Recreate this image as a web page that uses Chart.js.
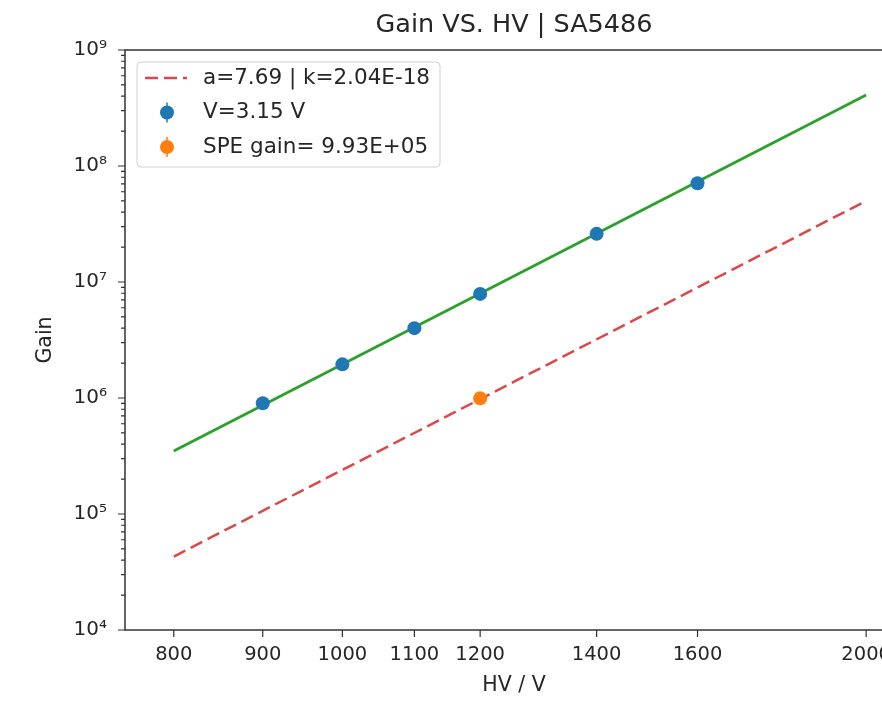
<!DOCTYPE html>
<html>
<head>
<meta charset="UTF-8" />
<title>Gain VS. HV</title>
<script src="https://cdn.jsdelivr.net/npm/chart.js@4.4.0/dist/chart.umd.min.js"></script>
<style>
	body { margin: 0; background: #fff; }
	.wrap { width: 882px; height: 704px; overflow: hidden; }
</style>
</head>
<body>
<div class="wrap"><canvas id="gainChart" width="920" height="704"></canvas></div>
<script>
// fit lines, end points
var fitHv = [800, 2000];
var speFit = [4.3e4, 5.0e7];
var gainFit = [3.5e5, 4.1e8];

// measured gain points
var hv = [900, 1000, 1100, 1200, 1400, 1600];
var gain = [9.0e5, 1.95e6, 4.0e6, 7.9e6, 2.6e7, 7.1e7];
var speHv = [1200];
var speGain = [9.93e5];

var xTicks = [800, 900, 1000, 1100, 1200, 1400, 1600, 2000];
var yTicks = [1e4, 1e5, 1e6, 1e7, 1e8, 1e9];
var yTickLabels = ['10⁴', '10⁵', '10⁶', '10⁷', '10⁸', '10⁹'];

var labelFit = 'a=7.69 | k=2.04E-18';
var labelGain = 'V=3.15 V';
var labelSpe = 'SPE gain= 9.93E+05';

var textColor = '#262626';
var fontName = '"DejaVu Sans", sans-serif';

function pairs(xs, ys) {
	return xs.map(function (x, i) { return { x: x, y: ys[i] }; });
}

// frame, tick marks and matplotlib-like legend
var framePlugin = {
	id: 'frame',
	afterDraw: function (chart) {
		var ctx = chart.ctx, ca = chart.chartArea;
		var xs = chart.scales.x, ys = chart.scales.y;
		ctx.save();
		ctx.strokeStyle = '#333';
		ctx.lineWidth = 1.5;
		ctx.strokeRect(ca.left, ca.top, ca.right - ca.left, ca.bottom - ca.top);

		ctx.lineWidth = 1.2;
		ctx.beginPath();
		xs.ticks.forEach(function (t) {
			var x = xs.getPixelForValue(t.value);
			ctx.moveTo(x, ca.bottom);
			ctx.lineTo(x, ca.bottom + 7);
		});
		ys.ticks.forEach(function (t) {
			var y = ys.getPixelForValue(t.value);
			var len = yTicks.indexOf(t.value) >= 0 ? 7 : 4;
			ctx.moveTo(ca.left, y);
			ctx.lineTo(ca.left - len, y);
		});
		ctx.stroke();

		// legend
		var items = chart.data.datasets.filter(function (d) { return d.label; });
		ctx.font = '21.5px ' + fontName;
		var w = 0;
		items.forEach(function (d) { w = Math.max(w, ctx.measureText(d.label).width); });
		var bx = ca.left + 12, by = ca.top + 12, bw = 66 + w + 10, bh = 105;
		ctx.beginPath();
		ctx.roundRect(bx, by, bw, bh, 4);
		ctx.fillStyle = 'rgba(255,255,255,0.8)';
		ctx.fill();
		ctx.strokeStyle = '#d0d0d0';
		ctx.lineWidth = 1;
		ctx.stroke();

		items.forEach(function (d, i) {
			var cy = by + 16 + i * 34.5;
			if (d.showLine) {
				ctx.save();
				ctx.strokeStyle = d.borderColor;
				ctx.lineWidth = d.borderWidth;
				ctx.setLineDash(d.borderDash || []);
				ctx.beginPath();
				ctx.moveTo(bx + 8, cy);
				ctx.lineTo(bx + 50, cy);
				ctx.stroke();
				ctx.restore();
			} else {
				ctx.strokeStyle = d.backgroundColor;
				ctx.lineWidth = 1.5;
				ctx.beginPath();
				ctx.moveTo(bx + 30, cy - 10);
				ctx.lineTo(bx + 30, cy + 10);
				ctx.stroke();
				ctx.fillStyle = d.backgroundColor;
				ctx.beginPath();
				ctx.arc(bx + 30, cy, 7, 0, Math.PI * 2);
				ctx.fill();
			}
			ctx.fillStyle = textColor;
			ctx.textBaseline = 'middle';
			ctx.textAlign = 'left';
			ctx.fillText(d.label, bx + 66, cy);
		});
		ctx.restore();
	}
};

var chart = new Chart(document.getElementById('gainChart'), {
	type: 'scatter',
	data: {
		datasets: [
			{
				label: labelFit,
				data: pairs(fitHv, speFit),
				showLine: true,
				borderColor: 'rgba(214,39,40,0.85)',
				borderDash: [13, 6],
				borderWidth: 2.5,
				pointRadius: 0,
				order: 2
			},
			{
				label: labelGain,
				data: pairs(hv, gain),
				showLine: false,
				backgroundColor: '#1f77b4',
				pointRadius: 7,
				pointBorderWidth: 0,
				order: 0
			},
			{
				label: labelSpe,
				data: pairs(speHv, speGain),
				showLine: false,
				backgroundColor: '#ff7f0e',
				pointRadius: 7,
				pointBorderWidth: 0,
				order: 0
			},
			{
				label: '',
				data: pairs(fitHv, gainFit),
				showLine: true,
				borderColor: '#2ca02c',
				borderWidth: 2.8,
				pointRadius: 0,
				order: 1
			}
		]
	},
	options: {
		responsive: false,
		animation: false,
		devicePixelRatio: 1,
		layout: { padding: { left: 0, right: 17, top: 0, bottom: 0 } },
		plugins: {
			legend: { display: false },
			tooltip: { enabled: false },
			title: {
				display: true,
				text: 'Gain VS. HV | SA5486',
				fullSize: false,
				color: textColor,
				font: { family: fontName, size: 25.5, weight: 'normal' },
				padding: { top: 9.7, bottom: 9.7 }
			}
		},
		scales: {
			x: {
				type: 'logarithmic',
				min: 750,
				max: 2100,
				afterBuildTicks: function (s) {
					s.ticks = xTicks.map(function (v) { return { value: v }; });
				},
				afterFit: function (s) { s.height = 74; },
				grid: { display: false, drawTicks: false },
				border: { display: false },
				ticks: {
					autoSkip: false,
					maxRotation: 0,
					padding: 13,
					color: textColor,
					font: { family: fontName, size: 19.5 },
					callback: function (v) { return String(v); }
				},
				title: {
					display: true,
					text: 'HV / V',
					color: textColor,
					font: { family: fontName, size: 20.5 },
					padding: { top: 0, bottom: 6 }
				}
			},
			y: {
				type: 'logarithmic',
				min: 1e4,
				max: 1e9,
				afterBuildTicks: function (s) {
					var t = [];
					for (var i = 0; i < yTicks.length - 1; i++) {
						for (var m = 1; m < 10; m++) t.push({ value: m * yTicks[i] });
					}
					t.push({ value: yTicks[yTicks.length - 1] });
					s.ticks = t;
				},
				afterFit: function (s) { s.width = 125; },
				grid: { display: false, drawTicks: false },
				border: { display: false },
				ticks: {
					autoSkip: false,
					padding: 18,
					color: textColor,
					font: { family: fontName, size: 20 },
					callback: function (v) {
						var i = yTicks.indexOf(v);
						return i >= 0 ? yTickLabels[i] : '';
					}
				},
				title: {
					display: true,
					text: 'Gain',
					color: textColor,
					font: { family: fontName, size: 20.5 },
					padding: { top: 33, bottom: 0 }
				}
			}
		}
	},
	plugins: [framePlugin]
});
</script>
</body>
</html>
